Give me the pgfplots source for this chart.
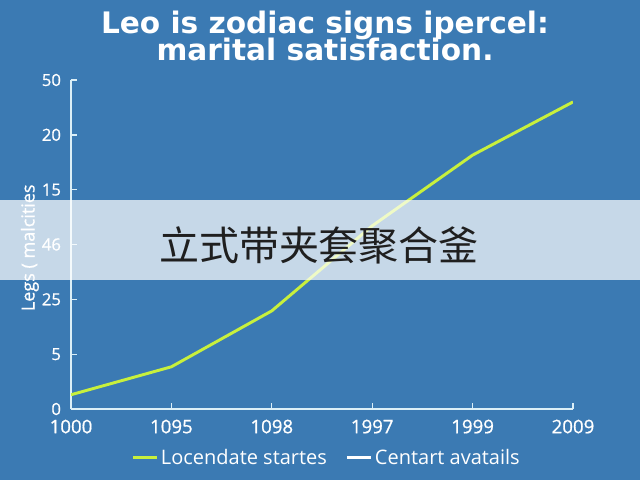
\documentclass[border=0pt]{standalone}
\usepackage{fontspec}
\setmainfont{Open Sans}
\newfontfamily\titlefont{DejaVu Sans}
\newfontfamily\tickfont[FakeBold=0.8]{Open Sans}
\newfontfamily\cjk{Noto Sans CJK SC}
\usepackage{pgfplots}
\pgfplotsset{compat=1.18}
\definecolor{bg}{HTML}{3B7AB3}
\definecolor{lime}{HTML}{C8F03C}
\definecolor{axc}{HTML}{DCEFF7}
\begin{document}
\begin{tikzpicture}[x=0.75pt,y=0.75pt]
\fill[bg] (0,0) rectangle (640,480);
\useasboundingbox (0,0) rectangle (640,480);
\node[font=\titlefont\bfseries\fontsize{22.2}{22.2}\selectfont, text=white, anchor=base] at (325,447) {Leo is zodiac signs ipercel:};
\node[font=\titlefont\bfseries\fontsize{22.2}{22.2}\selectfont, text=white, anchor=base] at (325,420) {marital satisfaction.};
\begin{axis}[
  at={(53.25pt,53.25pt)}, anchor=south west,
  scale only axis, width=376.5pt, height=246.75pt,
  xmin=0, xmax=5, ymin=0, ymax=6,
  axis lines=left,
  axis line style={axc, line width=1.1pt, -},
  xtick={0,...,5}, xticklabels={1000,1095,1098,1997,1999,2009},
  ytick={0,...,6}, yticklabels={0,5,25,46,15,20,50},
  tick align=inside, major tick length=4.5pt,
  tick style={axc, line width=1pt},
  ticklabel style={text=white},
  xticklabel style={font=\tickfont\fontsize{14}{14}\selectfont, yshift=-4.5pt},
  yticklabel style={font=\tickfont\fontsize{12.5}{12.5}\selectfont, xshift=-4pt},
  ylabel={Legs ( malcities},
  ylabel style={at={(axis description cs:-0.082,0.49)}, anchor=center, text=white, font=\tickfont\fontsize{13.5}{13.5}\selectfont},
  legend style={at={(0.51,-0.148)}, anchor=center, draw=none, fill=none, text=white,
     font=\fontsize{15}{15}\selectfont, legend columns=2,
     /tikz/every even column/.append style={column sep=12pt}},
  legend image code/.code={\draw[#1, line width=2pt] (0pt,0pt) -- (18pt,0pt);},
]
\addplot[lime, line width=2.2pt] coordinates {(0,0.26) (1,0.77) (2,1.79) (3,3.34) (4,4.63) (5,5.60)};
\addlegendentry{Locendate startes}
\addlegendimage{white}
\addlegendentry{Centart avatails}
\end{axis}
\fill[white, opacity=0.71] (0,200) rectangle (640,280);
\node[font=\cjk\fontsize{30}{30}\selectfont, text={black!88}] at (319,235) {立式带夹套聚合釜};
\end{tikzpicture}
\end{document}
